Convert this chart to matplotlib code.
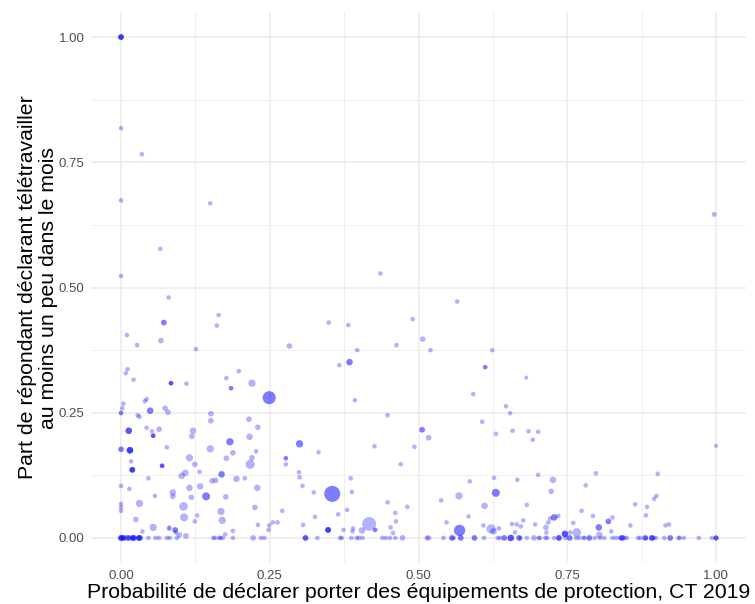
import numpy as np
import matplotlib
matplotlib.use("Agg")
import matplotlib.pyplot as plt
from matplotlib.ticker import MultipleLocator

# ---- data: points off the zero line (x, y, weight, number of overlapping obs) ----
x_prob = [
    0.000, 0.000, 0.035, 0.000, 0.150, 0.066, 0.000, 0.080, 0.436, 0.997, 0.565,
    0.072, 0.010, 0.027, 0.067, 0.126, 0.164, 0.161, 0.349, 0.382, 0.397, 0.283,
    0.463, 0.367, 0.384, 0.393, 0.448, 0.426, 0.470, 0.481, 0.448, 0.461, 0.462,
    0.453, 0.457, 0.427, 0.417, 0.405, 0.390, 0.389, 0.374, 0.380, 0.365, 0.388,
    0.386, 0.355, 0.348, 0.324, 0.326, 0.306, 0.271, 0.305, 0.300, 0.299, 0.300,
    0.332, 0.277, 0.277, 0.249, 0.220, 0.198, 0.177, 0.185, 0.215, 0.230, 0.216,
    0.227, 0.220, 0.217, 0.208, 0.194, 0.229, 0.225, 0.230, 0.249, 0.255, 0.263,
    0.248, 0.183, 0.188, 0.177, 0.169, 0.159, 0.153, 0.150, 0.151, 0.151, 0.133,
    0.124, 0.132, 0.121, 0.119, 0.115, 0.108, 0.102, 0.115, 0.118, 0.105, 0.106,
    0.128, 0.124, 0.143, 0.168, 0.170, 0.176, 0.188, 0.175, 0.110, 0.084, 0.074,
    0.079, 0.077, 0.069, 0.064, 0.054, 0.052, 0.049, 0.043, 0.043, 0.040, 0.028,
    0.031, 0.021, 0.011, 0.008, 0.004, 0.002, 0.000, 0.000, 0.013, 0.000, 0.015,
    0.017, 0.019, 0.046, 0.000, 0.014, 0.031, 0.057, 0.000, 0.000, 0.000, 0.025,
    0.054, 0.036, 0.081, 0.081, 0.087, 0.087, 0.091, 0.092, 0.098, 0.109,
    0.490, 0.507, 0.520, 0.624, 0.612, 0.681, 0.592, 0.647, 0.654, 0.607, 0.630,
    0.658, 0.685, 0.701, 0.692, 0.506, 0.517, 0.493, 1.000, 0.701, 0.798, 0.902,
    0.726, 0.666, 0.627, 0.586, 0.781, 0.723, 0.630, 0.568, 0.538, 0.611, 0.682,
    0.774, 0.793, 0.826, 0.819, 0.864, 0.884, 0.882, 0.900, 0.896, 0.856, 0.921,
    0.915, 0.584, 0.547, 0.569, 0.609, 0.622, 0.626, 0.635, 0.657, 0.665, 0.672,
    0.676, 0.662, 0.696, 0.714, 0.715, 0.718, 0.721, 0.728, 0.735, 0.760, 0.746,
    0.766, 0.755, 0.803, 0.824, 0.804,
]
y_tele = [
    1.000, 0.818, 0.766, 0.674, 0.668, 0.577, 0.523, 0.480, 0.528, 0.646, 0.472,
    0.430, 0.405, 0.385, 0.394, 0.377, 0.445, 0.424, 0.430, 0.425, 0.375, 0.383,
    0.385, 0.345, 0.351, 0.275, 0.245, 0.183, 0.147, 0.062, 0.071, 0.050, 0.033,
    0.021, 0.010, 0.016, 0.028, 0.015, 0.019, 0.013, 0.016, 0.056, 0.047, 0.092,
    0.119, 0.088, 0.016, 0.091, 0.042, 0.026, 0.054, 0.104, 0.121, 0.131, 0.188,
    0.171, 0.159, 0.147, 0.280, 0.309, 0.333, 0.319, 0.299, 0.237, 0.221, 0.202,
    0.173, 0.160, 0.147, 0.119, 0.118, 0.100, 0.061, 0.026, 0.025, 0.031, 0.031,
    0.016, 0.192, 0.170, 0.159, 0.127, 0.115, 0.114, 0.178, 0.234, 0.248, 0.103,
    0.147, 0.132, 0.214, 0.203, 0.160, 0.130, 0.124, 0.100, 0.081, 0.063, 0.041,
    0.045, 0.033, 0.083, 0.053, 0.035, 0.082, 0.014, 0.007, 0.308, 0.309, 0.259,
    0.251, 0.181, 0.144, 0.217, 0.204, 0.213, 0.254, 0.220, 0.277, 0.273, 0.245,
    0.242, 0.316, 0.337, 0.329, 0.268, 0.259, 0.250, 0.249, 0.214, 0.177, 0.175,
    0.153, 0.136, 0.119, 0.104, 0.098, 0.069, 0.084, 0.068, 0.061, 0.054, 0.037,
    0.021, 0.013, 0.021, 0.018, 0.091, 0.083, 0.016, 0.011, 0.006, 0.004,
    0.437, 0.397, 0.375, 0.375, 0.341, 0.320, 0.287, 0.263, 0.249, 0.232, 0.208,
    0.214, 0.213, 0.212, 0.196, 0.216, 0.200, 0.182, 0.184, 0.126, 0.129, 0.128,
    0.116, 0.116, 0.120, 0.113, 0.105, 0.093, 0.090, 0.084, 0.075, 0.064, 0.066,
    0.054, 0.044, 0.041, 0.033, 0.067, 0.062, 0.045, 0.084, 0.078, 0.025, 0.027,
    0.025, 0.043, 0.031, 0.015, 0.025, 0.018, 0.013, 0.019, 0.028, 0.027, 0.023,
    0.035, 0.011, 0.027, 0.021, 0.011, 0.031, 0.039, 0.041, 0.044, 0.030, 0.008,
    0.011, 0.011, 0.021, 0.013, 0.006,
]
weight = [
    1.5, 1, 1, 1, 1, 1, 1, 1, 1, 1.2, 1,
    1.5, 1, 1, 1.5, 1, 1, 1, 1, 1, 1, 1.5,
    1, 1, 2, 1, 1, 1, 1, 1, 1, 1, 1,
    1, 1, 1, 9, 2, 1, 1, 1, 1, 1, 1,
    1, 12, 1.5, 1, 1, 1, 1, 1, 1, 1, 2.5,
    1, 1, 1, 8, 2.5, 1, 1, 1, 1.5, 1.5, 2,
    1, 1.5, 4, 1, 2, 2, 1.5, 1, 1, 1, 1,
    1, 2.5, 1.5, 1.5, 2, 1.5, 1.5, 2.5, 1.5, 1.5, 2,
    1.5, 1, 2, 1.5, 2.5, 2, 2, 2, 1.5, 3.5, 3,
    1, 1, 3, 2.5, 2.5, 1.5, 1, 1, 1, 1, 1.5,
    1.5, 1, 1, 1.5, 1, 1, 2, 1, 1, 1, 1,
    1, 1, 1, 1, 1, 1, 1, 1, 2, 1.5, 2,
    1, 1.5, 1, 1, 1, 2.5, 1, 1, 1, 1, 1.5,
    2.5, 1, 1, 1, 2, 1.5, 1.5, 1, 1.5, 1.5,
    1, 1.5, 1, 1, 1, 0.8, 1, 1, 1, 1, 1,
    1, 1, 1, 1, 1.5, 1.5, 1, 0.8, 1, 1, 1,
    2, 1, 1, 1, 1, 1.5, 3, 2.5, 1, 2, 1,
    1, 1, 1, 1.5, 1, 1, 1, 1, 1, 1, 1,
    1, 1, 1, 6, 1, 4, 2, 1, 1, 1, 1,
    1, 1, 1, 1.5, 1, 1, 1, 2, 1, 1, 2,
    3.5, 1, 2, 1, 2,
]
count = [
    4, 1, 1, 1, 1, 1, 1, 1, 1, 1, 1,
    2, 1, 1, 1, 1, 1, 1, 1, 1, 1, 1,
    1, 1, 2, 1, 1, 1, 1, 1, 1, 1, 1,
    1, 1, 2, 1, 1, 1, 1, 1, 1, 1, 1,
    1, 2, 4, 1, 1, 1, 1, 1, 1, 1, 2,
    1, 2, 1, 2, 1, 1, 1, 2, 1, 1, 1,
    1, 1, 1, 1, 1, 1, 1, 1, 1, 1, 1,
    1, 2, 1, 1, 2, 1, 1, 1, 1, 1, 1,
    1, 1, 1, 1, 1, 1, 1, 1, 1, 1, 1,
    1, 1, 2, 1, 1, 1, 1, 1, 1, 3, 1,
    1, 1, 3, 1, 3, 1, 2, 1, 1, 1, 1,
    1, 1, 1, 1, 1, 1, 1, 1, 3, 2, 4,
    1, 4, 1, 1, 1, 1, 1, 1, 1, 1, 1,
    1, 1, 1, 1, 1, 1, 2, 1, 1, 1,
    1, 1, 1, 1, 2, 1, 1, 1, 1, 1, 1,
    1, 1, 1, 1, 2, 1, 1, 1, 1, 1, 1,
    1, 1, 1, 1, 1, 1, 2, 1, 1, 1, 1,
    1, 1, 1, 2, 1, 1, 1, 1, 1, 1, 1,
    1, 1, 1, 2, 1, 1, 1, 1, 1, 1, 1,
    1, 1, 1, 1, 1, 1, 1, 2, 1, 1, 3,
    1, 1, 2, 1, 1,
]

# ---- data: points on the zero line (y = 0) ----
x_zero = [
    0.000, 0.004, 0.010, 0.014, 0.020, 0.022, 0.030, 0.032, 0.046, 0.058, 0.064,
    0.077, 0.082, 0.094, 0.155, 0.158, 0.165, 0.167, 0.171, 0.188, 0.222, 0.235,
    0.241, 0.310, 0.330, 0.368, 0.371, 0.387, 0.396, 0.400, 0.406, 0.439, 0.445,
    0.452, 0.461, 0.473,
    0.514, 0.517, 0.542, 0.556, 0.559, 0.571, 0.594, 0.610, 0.633, 0.637, 0.644,
    0.655, 0.669, 0.671, 0.682, 0.694, 0.702, 0.704, 0.713, 0.716, 0.728, 0.736,
    0.747, 0.754, 0.765, 0.770, 0.777, 0.779, 0.787, 0.796, 0.805, 0.812, 0.826,
    0.832, 0.838, 0.842, 0.846, 0.850, 0.869, 0.873, 0.881, 0.882, 0.892, 0.895,
    0.899, 0.913, 0.923, 0.937, 0.939, 0.946, 0.971, 0.993, 1.000,
]
w_zero = [
    1.5, 1.5, 1.5, 1.5, 1.5, 1.5, 1.5, 1.5, 1, 1, 1,
    1, 1, 1, 1, 1, 1, 1, 1, 1, 1.5, 1,
    1, 1.5, 1, 1, 1, 1, 1, 1, 1, 1, 1,
    1, 1, 1.5,
    1, 1.5, 1, 1.5, 1, 1.5, 1.5, 1, 1, 1, 1.5,
    2, 1.5, 1, 1, 1.5, 1, 1, 1, 1, 1, 1.5,
    1, 1.5, 1, 1, 1, 1, 1.5, 1, 1, 1, 1,
    1, 1, 1.5, 1, 1, 1, 1, 1.5, 1, 1.5, 1,
    1, 1, 1.5, 1, 1, 1, 1, 1, 1.2,
]
n_zero = [
    4, 3, 2, 2, 3, 2, 3, 2, 1, 1, 1,
    1, 1, 1, 1, 1, 1, 1, 1, 1, 1, 1,
    1, 3, 1, 1, 1, 1, 1, 1, 1, 1, 1,
    1, 1, 1,
    1, 1, 1, 2, 1, 2, 2, 1, 1, 1, 2,
    3, 2, 1, 1, 1, 1, 1, 1, 1, 1, 3,
    1, 2, 1, 1, 1, 1, 2, 1, 1, 1, 1,
    1, 1, 3, 1, 1, 1, 1, 2, 1, 3, 1,
    1, 1, 2, 1, 1, 1, 1, 1, 3,
]

x_ticks = [0.0, 0.25, 0.5, 0.75, 1.0]
y_ticks = [0.0, 0.25, 0.5, 0.75, 1.0]
tick_labels = ["0.00", "0.25", "0.50", "0.75", "1.00"]
x_title = "Probabilité de déclarer porter des équipements de protection, CT 2019"
y_title = "Part de répondant déclarant télétravailler\nau moins un peu dans le mois"

# ---- assemble observations ----
xs = np.concatenate([np.repeat(x_prob, count), np.repeat(x_zero, n_zero)])
ys = np.concatenate([np.repeat(y_tele, count), np.zeros(int(np.sum(n_zero)))])
ws = np.concatenate([np.repeat(weight, count), np.repeat(w_zero, n_zero)])

plt.rcParams["font.family"] = ["Liberation Sans", "DejaVu Sans"]

fig = plt.figure(figsize=(7.55, 6.04), dpi=100)
ax = fig.add_axes([0.1209, 0.0679, 0.8669, 0.9122])

ax.scatter(xs, ys, s=11 * ws, color="blue", alpha=0.3, edgecolors="none", zorder=3)

ax.set_xlim(-0.05, 1.05)
ax.set_ylim(-0.05, 1.05)
ax.set_xticks(x_ticks)
ax.set_xticklabels(tick_labels)
ax.set_yticks(y_ticks)
ax.set_yticklabels(tick_labels)
ax.xaxis.set_minor_locator(MultipleLocator(0.125))
ax.yaxis.set_minor_locator(MultipleLocator(0.125))

ax.grid(True, which="major", color="#EBEBEB", linewidth=1.1, zorder=0)
ax.grid(True, which="minor", color="#EBEBEB", linewidth=0.55, zorder=0)
ax.set_axisbelow(True)
for sp in ax.spines.values():
    sp.set_visible(False)
ax.tick_params(which="both", length=0)
ax.tick_params(axis="both", which="major", labelsize=9.5, labelcolor="#4D4D4D")
ax.tick_params(axis="x", pad=5)
ax.tick_params(axis="y", pad=5)

ax.set_xlabel(x_title, fontsize=15.3, color="black", labelpad=1)
ax.set_ylabel(y_title, fontsize=15.3, color="black", labelpad=0.5, linespacing=1.15)

fig.savefig("out.png", dpi=100, facecolor="white")
